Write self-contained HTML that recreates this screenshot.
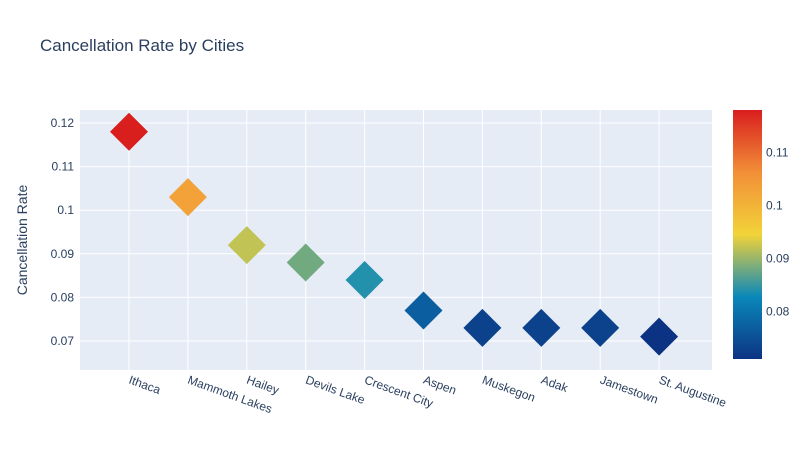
<!DOCTYPE html>
<html><head><meta charset="utf-8"><style>
body{margin:0;background:#fff;font-family:"Liberation Sans",sans-serif;}
svg text{font-family:"Liberation Sans",sans-serif;}
</style></head><body>
<svg id="c" width="812" height="450" xmlns="http://www.w3.org/2000/svg">
<defs><linearGradient id="g" x1="0" y1="1" x2="0" y2="0">
<stop offset="0" stop-color="#0c3383"/><stop offset="0.25" stop-color="#0a88ba"/>
<stop offset="0.5" stop-color="#f2d338"/><stop offset="0.75" stop-color="#f28f38"/><stop offset="1" stop-color="#d91e1e"/>
</linearGradient></defs>
<rect x="0" y="0" width="812" height="450" fill="#fff"/>
<text x="40" y="51" font-size="17" fill="#2a3f5f">Cancellation Rate by Cities</text>
<rect x="80" y="110" width="632" height="260" fill="#e5ecf6"/>
<g id="grid"></g><g id="marks"></g><g id="labels"></g>
<text transform="translate(27,240) rotate(-90)" text-anchor="middle" font-size="14" fill="#2a3f5f">Cancellation Rate</text>
<rect x="733" y="110" width="29" height="249" fill="url(#g)"/>
<g id="cb"></g>
</svg>
<script>
const cities=["Ithaca","Mammoth Lakes","Hailey","Devils Lake","Crescent City","Aspen","Muskegon","Adak","Jamestown","St. Augustine"];
const rates=[0.118,0.103,0.092,0.088,0.084,0.077,0.073,0.073,0.073,0.071];
const yTicks=[0.07,0.08,0.09,0.1,0.11,0.12];
const yTickLabels=["0.07","0.08","0.09","0.1","0.11","0.12"];
const cbTicks=[0.08,0.09,0.1,0.11];
const cbTickLabels=["0.08","0.09","0.1","0.11"];
const NS="http://www.w3.org/2000/svg";
const x=i=>129+i*58.9;
const y=v=>341-(v-0.07)*4360;
const cmin=Math.min(...rates),cmax=Math.max(...rates);
const cby=v=>359-(v-cmin)/(cmax-cmin)*249;
const stops=[[0,[12,51,131]],[0.25,[10,136,186]],[0.5,[242,211,56]],[0.75,[242,143,56]],[1,[217,30,30]]];
function col(v){let t=(v-cmin)/(cmax-cmin);for(let k=1;k<stops.length;k++){if(t<=stops[k][0]){const a=stops[k-1],b=stops[k];const f=(t-a[0])/(b[0]-a[0]);return "rgb("+a[1].map((c,j)=>Math.round(c+(b[1][j]-c)*f)).join(",")+")";}}return "rgb(217,30,30)";}
function mk(t,a,p){const e=document.createElementNS(NS,t);for(const k in a)e.setAttribute(k,a[k]);p.appendChild(e);return e;}
const grid=document.getElementById('grid'),marks=document.getElementById('marks'),labels=document.getElementById('labels'),cb=document.getElementById('cb');
yTicks.forEach((v,i)=>{
 const l=mk('line',{x1:80,x2:712,y1:y(v),y2:y(v),stroke:'#fff','stroke-width':1},grid);
 
 
 const t=mk('text',{x:74,y:y(v)+4,'text-anchor':'end','font-size':12,fill:'#2a3f5f'},labels);
 t.textContent=yTickLabels[i];
 
 
});
cities.forEach((c,i)=>{
 const l=mk('line',{x1:x(i),x2:x(i),y1:110,y2:370,stroke:'#fff','stroke-width':1},grid);
 
 
 const cx=x(i),cy=y(rates[i]),r=19;
 const p=mk('path',{d:`M${cx},${cy-r}L${cx+r},${cy}L${cx},${cy+r}L${cx-r},${cy}Z`,fill:col(rates[i])},marks);
 
 
 const t=mk('text',{x:0,y:0,'font-size':12,fill:'#2a3f5f',transform:`translate(${cx-1},${383}) rotate(20)`},labels);
 t.textContent=c;
 
 
});
cbTicks.forEach((v,i)=>{
 const t=mk('text',{x:766,y:cby(v)+4,'font-size':12,fill:'#2a3f5f'},cb);
 t.textContent=cbTickLabels[i];
 
 
});
</script>
</body></html>
